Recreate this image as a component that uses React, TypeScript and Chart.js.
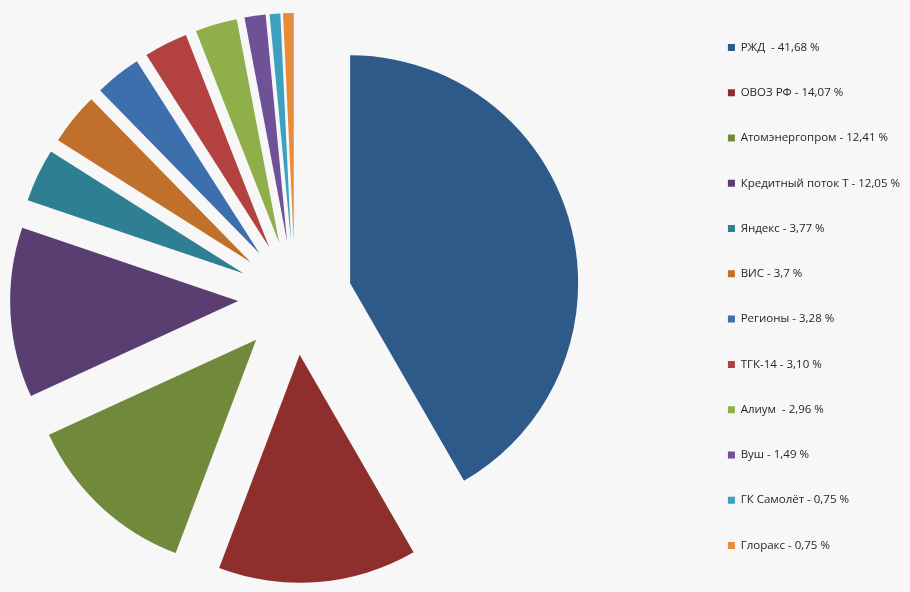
import React, { useEffect, useRef } from "react";
import { Chart, registerables, ArcElement, PieController } from "chart.js";

Chart.register(...registerables);

const categories: string[] = [
  "РЖД ",
  "ОВОЗ РФ",
  "Атомэнергопром",
  "Кредитный поток Т",
  "Яндекс",
  "ВИС",
  "Регионы",
  "ТГК-14",
  "Алиум ",
  "Вуш",
  "ГК Самолёт",
  "Глоракс",
];

const shareText: string[] = [
  "41,68",
  "14,07",
  "12,41",
  "12,05",
  "3,77",
  "3,7",
  "3,28",
  "3,10",
  "2,96",
  "1,49",
  "0,75",
  "0,75",
];

const shares: number[] = [41.68, 14.07, 12.41, 12.05, 3.77, 3.7, 3.28, 3.1, 2.96, 1.49, 0.75, 0.75];

const colors: string[] = [
  "#2E5A8A",
  "#8E2F2D",
  "#71893A",
  "#5A3E72",
  "#2F7F92",
  "#C0702A",
  "#3D6FAC",
  "#B24140",
  "#8FAF4B",
  "#6E5196",
  "#3CA0BE",
  "#E88B3A",
];

const labels = categories.map((c, i) => `${c} - ${shareText[i]} %`);

// Arc that is exploded by a plain translation (Excel style) instead of Chart.js's
// radius-extending offset.
class ExplodedArc extends (ArcElement as any) {
  static id = "explodedArc";
  draw(ctx: CanvasRenderingContext2D) {
    const self = this as any;
    const { x, y, startAngle, endAngle, outerRadius, options } = self;
    if (!(endAngle - startAngle > 0)) return;
    const off = options.offset || 0;
    const mid = (startAngle + endAngle) / 2;
    const cx = x + Math.cos(mid) * off;
    const cy = y + Math.sin(mid) * off;
    ctx.save();
    ctx.fillStyle = options.backgroundColor;
    ctx.beginPath();
    ctx.moveTo(cx, cy);
    ctx.arc(cx, cy, outerRadius, startAngle, endAngle);
    ctx.closePath();
    ctx.fill();
    ctx.restore();
  }
}

class ExplodedPieController extends (PieController as any) {
  static id = "explodedPie";
  static defaults = { dataElementType: "explodedArc" };
}

Chart.register(ExplodedArc as any, ExplodedPieController as any);

const bgPlugin = {
  id: "bgFill",
  beforeDraw(chart: any) {
    const { ctx, width, height } = chart;
    ctx.save();
    ctx.fillStyle = "#f7f7f7";
    ctx.fillRect(0, 0, width, height);
    ctx.restore();
  },
};

export default function App() {
  const ref = useRef<HTMLCanvasElement | null>(null);

  useEffect(() => {
    if (!ref.current) return;
    const chart = new Chart(ref.current, {
      type: "explodedPie" as any,
      data: {
        labels,
        datasets: [
          {
            data: shares,
            backgroundColor: colors,
            borderWidth: 0,
            offset: 57,
            radius: 228,
          } as any,
        ],
      },
      options: {
        animation: false,
        responsive: true,
        maintainAspectRatio: false,
        layout: { padding: { top: 7.98, bottom: 3.98, left: 0, right: 0 } },
        plugins: {
          tooltip: { enabled: false },
          legend: {
            position: "right",
            align: "start",
            labels: {
              boxWidth: 7,
              boxHeight: 7,
              padding: 33.77,
              color: "#262626",
              font: { family: "'Open Sans'", size: 11.5 },
            },
          },
        },
      } as any,
      plugins: [bgPlugin],
    });
    return () => chart.destroy();
  }, []);

  return (
    <div
      style={{
        position: "absolute",
        left: -104,
        top: 0,
        width: 1014,
        height: 592,
        background: "#f7f7f7",
      }}
    >
      <canvas ref={ref} />
    </div>
  );
}
